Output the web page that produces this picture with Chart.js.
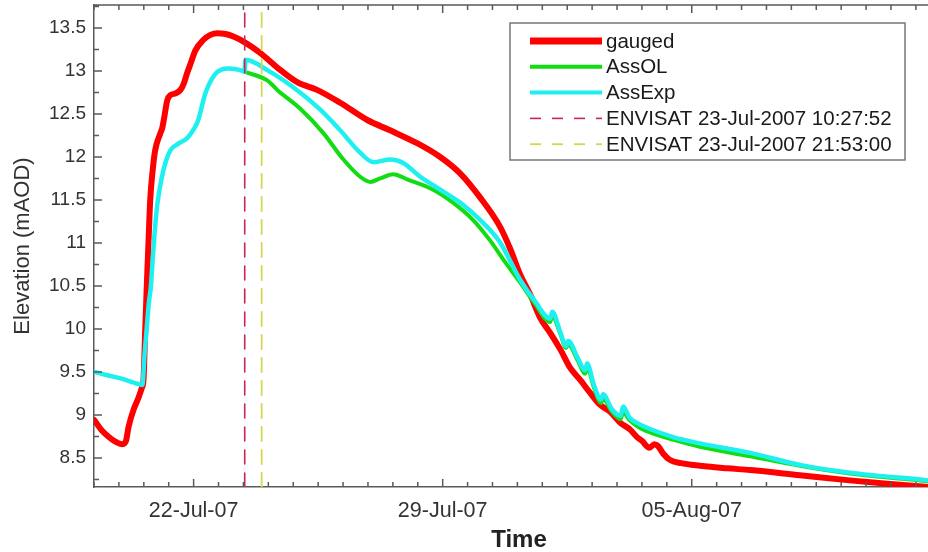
<!DOCTYPE html>
<html><head><meta charset="utf-8">
<script src="https://cdn.jsdelivr.net/npm/chart.js@4.4.1/dist/chart.umd.min.js"></script>
<style>
html,body{margin:0;padding:0;overflow:hidden;background:#fff;width:928px;height:552px}
#wrap{position:relative;width:946px;height:552px}
</style></head><body>
<div id="wrap"><canvas id="c" width="946" height="552"></canvas></div>
<script>
// Time in days of July 2007 (1 Aug = day 32)
const gaugedT = [19.21,19.40,19.60,19.80,20.00,20.10,20.17,20.31,20.45,20.55,20.59,20.64,20.69,20.74,20.78,20.85,20.92,21.06,21.12,21.17,21.26,21.35,21.50,21.63,21.72,21.82,21.91,22.05,22.27,22.47,22.67,22.90,23.12,23.45,23.87,24.35,24.91,25.47,26.12,26.88,27.52,28.28,28.93,29.49,30.05,30.61,30.90,31.18,31.46,31.74,32.03,32.31,32.58,32.86,33.14,33.42,33.70,33.99,34.27,34.47,34.60,34.81,34.95,35.05,35.20,35.38,35.70,36.23,37.00,37.64,39.04,40.44,41.50,43.09];
const gaugedV = [8.94,8.83,8.75,8.69,8.66,8.70,8.86,9.06,9.20,9.32,9.40,10.00,10.57,11.10,11.50,11.85,12.08,12.27,12.34,12.45,12.66,12.72,12.74,12.78,12.85,12.98,13.08,13.24,13.36,13.42,13.44,13.43,13.40,13.33,13.21,13.04,12.87,12.78,12.63,12.43,12.31,12.16,12.00,11.81,11.53,11.19,10.93,10.63,10.40,10.13,9.95,9.76,9.55,9.41,9.26,9.12,9.04,8.91,8.83,8.74,8.70,8.62,8.66,8.64,8.55,8.48,8.44,8.41,8.38,8.36,8.30,8.24,8.20,8.15];

const assOLT = [23.44,24.07,24.35,25.00,25.64,26.21,26.68,26.97,27.24,27.61,28.00,28.73,29.29,29.85,30.33,30.75,31.18,31.60,32.02,32.08,32.30,32.47,32.53,32.80,33.00,33.06,33.25,33.45,33.51,33.75,34.00,34.07,34.25,34.50,34.81,35.50,36.23,37.64,39.04,40.44,42.64,43.09];
const assOLV = [12.99,12.89,12.78,12.56,12.28,11.97,11.77,11.71,11.75,11.80,11.74,11.62,11.47,11.27,11.03,10.78,10.54,10.29,10.08,10.15,9.95,9.78,9.82,9.63,9.48,9.55,9.32,9.14,9.19,9.04,8.95,9.03,8.94,8.86,8.80,8.71,8.63,8.52,8.41,8.32,8.23,8.21];

const assExpT = [19.21,19.60,20.00,20.30,20.56,20.62,20.67,20.74,20.80,20.84,20.90,20.98,21.10,21.22,21.35,21.55,21.82,22.00,22.13,22.25,22.33,22.50,22.67,22.95,23.20,23.37,23.43,23.46,24.07,24.80,25.56,26.12,26.68,27.05,27.52,27.89,28.37,28.93,29.49,30.05,30.61,31.18,31.60,32.02,32.08,32.30,32.47,32.53,32.80,33.00,33.06,33.25,33.45,33.51,33.75,34.00,34.07,34.25,34.50,34.81,35.50,36.23,37.64,39.04,40.44,42.64,43.09];
const assExpV = [9.50,9.46,9.42,9.38,9.35,9.70,9.95,10.30,10.50,10.75,11.10,11.45,11.75,11.95,12.08,12.15,12.22,12.32,12.43,12.62,12.74,12.90,12.99,13.03,13.02,13.00,12.99,13.13,13.01,12.81,12.55,12.31,12.05,11.94,11.97,11.93,11.77,11.62,11.47,11.27,11.01,10.57,10.32,10.12,10.20,9.97,9.80,9.86,9.66,9.52,9.60,9.35,9.18,9.24,9.07,8.99,9.10,8.97,8.90,8.84,8.74,8.67,8.56,8.42,8.33,8.24,8.22];

const envisatT = [23.436, 23.912];
const envisatLabels = ['ENVISAT 23-Jul-2007 10:27:52', 'ENVISAT 23-Jul-2007 21:53:00'];
const seriesLabels = ['gauged', 'AssOL', 'AssExp'];

const xTickDays = [22, 29, 36];
const xTickLabels = ['22-Jul-07', '29-Jul-07', '05-Aug-07'];
const yTickValues = [8.5, 9, 9.5, 10, 10.5, 11, 11.5, 12, 12.5, 13, 13.5];
const yTickLabels = ['8.5', '9', '9.5', '10', '10.5', '11', '11.5', '12', '12.5', '13', '13.5'];

const xMin = 19.2, xMax = 43.09, xMinorStep = 0.7;
const yMin = 8.163, yMax = 13.767, yMinorStep = 0.25;

const FONT = "'Liberation Sans', Arial, sans-serif";
const AXIS = '#5a5a5a';

function pts(t, v) { return t.map((d, i) => ({ x: d, y: v[i] })); }
function vline(t) { return [{ x: t, y: yMin }, { x: t, y: yMax }]; }
function near(a, b) { return Math.abs(a - b) < 1e-3; }

const data = {
  datasets: [
    { label: seriesLabels[0], data: pts(gaugedT, gaugedV), borderColor: '#ff0000', borderWidth: 6, order: 3, legendWidth: 7 },
    { label: seriesLabels[1], data: pts(assOLT, assOLV), borderColor: '#12dd12', borderWidth: 4, order: 2, legendWidth: 4 },
    { label: seriesLabels[2], data: pts(assExpT, assExpV), borderColor: '#1ef0f0', borderWidth: 4.5, order: 1, legendWidth: 4 },
    { label: envisatLabels[0], data: vline(envisatT[0]), borderColor: '#c8284e', borderWidth: 1.6, borderDash: [14, 9], order: 0, tension: 0, cubicInterpolationMode: 'default', legendWidth: 1.6 },
    { label: envisatLabels[1], data: vline(envisatT[1]), borderColor: '#d6d650', borderWidth: 1.8, borderDash: [14, 9], order: 0, tension: 0, cubicInterpolationMode: 'default', legendWidth: 1.8 }
  ]
};

const decor = {
  id: 'decor',
  afterDatasetsDraw(chart) {
    const { ctx, chartArea: a, scales: { x, y } } = chart;
    ctx.save();
    ctx.strokeStyle = AXIS;
    ctx.lineWidth = 1.5;
    ctx.beginPath();
    ctx.moveTo(a.left, a.top); ctx.lineTo(a.right, a.top);
    x.ticks.forEach(t => {
      const px = x.getPixelForValue(t.value);
      const len = xTickDays.some(d => near(d, t.value)) ? 8 : 5;
      ctx.moveTo(px, a.bottom); ctx.lineTo(px, a.bottom - len);
      ctx.moveTo(px, a.top); ctx.lineTo(px, a.top + len);
    });
    y.ticks.forEach(t => {
      const py = y.getPixelForValue(t.value);
      const len = yTickValues.some(d => near(d, t.value)) ? 8 : 5;
      ctx.moveTo(a.left, py); ctx.lineTo(a.left + len, py);
    });
    ctx.stroke();
    ctx.restore();
  },
  afterDraw(chart) {
    const { ctx } = chart;
    const bx = 510, by = 23, bw = 395, bh = 137;
    ctx.save();
    ctx.fillStyle = '#fff';
    ctx.fillRect(bx, by, bw, bh);
    ctx.strokeStyle = '#777';
    ctx.lineWidth = 1.5;
    ctx.strokeRect(bx, by, bw, bh);
    ctx.font = "20.5px " + FONT;
    ctx.textBaseline = 'middle';
    ctx.fillStyle = '#1a1a1a';
    chart.data.datasets.forEach((ds, i) => {
      const cy = by + 18 + i * 25.8;
      ctx.beginPath();
      ctx.strokeStyle = ds.borderColor;
      ctx.lineWidth = ds.legendWidth;
      ctx.setLineDash(ds.borderDash ? [11, 11] : []);
      ctx.moveTo(530, cy); ctx.lineTo(602, cy);
      ctx.stroke();
      ctx.setLineDash([]);
      ctx.fillText(ds.label, 606, cy + 1);
    });
    ctx.restore();
  }
};

new Chart(document.getElementById('c'), {
  type: 'line',
  data,
  plugins: [decor],
  options: {
    responsive: false,
    animation: false,
    layout: { padding: { left: 0, right: 2, top: 5, bottom: 0 } },
    elements: {
      point: { radius: 0 },
      line: { cubicInterpolationMode: 'monotone', borderCapStyle: 'round', borderJoinStyle: 'round' }
    },
    plugins: { legend: { display: false }, tooltip: { enabled: false } },
    scales: {
      x: {
        type: 'linear', min: xMin, max: xMax,
        afterBuildTicks(s) {
          const t = [];
          for (let k = 0; xMin + k * xMinorStep <= xMax + 1e-9; k++) t.push({ value: Math.round((xMin + k * xMinorStep) * 1000) / 1000 });
          s.ticks = t;
        },
        afterFit(s) { s.height = 65; s.paddingLeft = 0; s.paddingRight = 0; },
        grid: { display: false, drawTicks: false },
        border: { display: true, color: AXIS, width: 1.5 },
        ticks: {
          autoSkip: false, maxRotation: 0, padding: 11, color: '#333',
          font: { family: FONT, size: 21.5 },
          callback(v) { const i = xTickDays.findIndex(d => near(d, v)); return i >= 0 ? xTickLabels[i] : ''; }
        },
        title: { display: true, text: 'Time', color: '#222', font: { family: FONT, size: 24, weight: 'bold', lineHeight: 0.95 }, padding: { top: 0, bottom: 0 } }
      },
      y: {
        type: 'linear', min: yMin, max: yMax,
        afterBuildTicks(s) {
          const t = [];
          for (let k = 0; 8.25 + k * yMinorStep <= yMax + 1e-9; k++) t.push({ value: Math.round((8.25 + k * yMinorStep) * 1000) / 1000 });
          s.ticks = t;
        },
        afterFit(s) { s.width = 94; s.paddingTop = 0; s.paddingBottom = 0; },
        grid: { display: false, drawTicks: false },
        border: { display: true, color: AXIS, width: 1.5 },
        ticks: {
          autoSkip: false, padding: 8, color: '#333',
          font: { family: FONT, size: 19 },
          callback(v) { const i = yTickValues.findIndex(d => near(d, v)); return i >= 0 ? yTickLabels[i] : ''; }
        },
        title: { display: true, text: 'Elevation (mAOD)', color: '#333', font: { family: FONT, size: 22 }, padding: { top: 10, bottom: 0 } }
      }
    }
  }
});
</script>
</body></html>
